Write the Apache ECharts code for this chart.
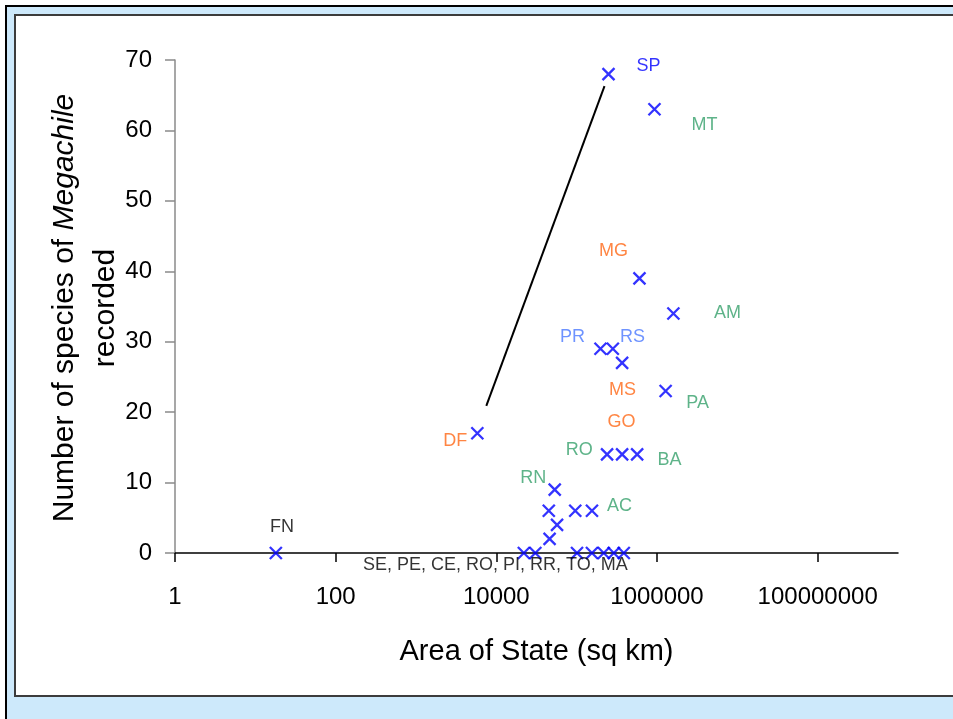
<!DOCTYPE html>
<html>
<head>
<meta charset="utf-8">
<script src="https://cdn.jsdelivr.net/npm/echarts@6/dist/echarts.min.js"></script>
<style>
  html, body { margin: 0; padding: 0; background: #ffffff; width: 953px; height: 719px; overflow: hidden; }
  #outer { position: absolute; left: 5px; top: 5px; width: 980px; height: 740px; background: #cde9fb;
           border-top: 2px solid #000; border-left: 2px solid #000; box-sizing: border-box; }
  #panel { position: absolute; left: 14px; top: 14px; width: 980px; height: 683px; background: #ffffff;
           border-top: 2px solid #3c3c3c; border-left: 2px solid #3c3c3c; border-bottom: 2px solid #3c3c3c; box-sizing: border-box; }
  #chart { position: absolute; left: 0; top: 0; width: 953px; height: 719px; }
</style>
</head>
<body>
<div id="outer"></div>
<div id="panel"></div>
<div id="chart"></div>
<script>
// ---- data (area of state in sq km, number of Megachile species) ----
var pointArea = [18, 5800, 249000, 930000, 605000, 1600000, 198000, 282000, 368000, 1280000,
                 239000, 368000, 566000, 53300, 45000, 96000, 155000, 57000, 46000,
                 22000, 30600, 101000, 155000, 217000, 290000, 386000];
var pointSpecies = [0, 17, 68, 63, 39, 34, 29, 29, 27, 23,
                    14, 14, 14, 9, 6, 6, 6, 4, 2,
                    0, 0, 0, 0, 0, 0, 0];

// state labels (text, anchor area, anchor species, colour group)
var labelText = ['SP', 'MT', 'MG', 'AM', 'PR', 'RS', 'MS', 'PA', 'GO', 'DF', 'RO', 'BA', 'RN', 'AC', 'FN',
                 'SE, PE, CE, RO, PI, RR, TO, MA'];
var labelArea = [783000, 3900000, 287000, 7560000, 88500, 495000, 372000, 3200000, 361000, 3080, 108000,
                 1430000, 28900, 341000, 21.5, 9720];
var labelSpecies = [69.1, 60.8, 42.9, 34.1, 30.7, 30.7, 23.1, 21.3, 18.6, 15.9, 14.6, 13.2, 10.6, 6.7, 3.7, -1.7];
var labelGroup = ['blue', 'green', 'orange', 'green', 'lightblue', 'lightblue', 'orange', 'green', 'orange',
                  'orange', 'green', 'green', 'green', 'green', 'black', 'black'];

// annotation line from DF towards SP
var lineArea = [7500, 222000];
var lineSpecies = [20.9, 66.3];

var xTickValues = [1, 100, 10000, 1000000, 100000000];
var xMin = 1, xMax = 1000000000;
var yMin = 0, yMax = 70, yStep = 10;

var xTitle = 'Area of State (sq km)';
var yTitleLine1 = 'Number of species of ';
var yTitleItalic = 'Megachile';
var yTitleLine2 = 'recorded';

var groupColor = { blue: '#0000ff', green: '#36a06c', orange: '#ff6614', lightblue: '#4a78ff', black: '#000000' };

var regular = "'Liberation Sans', Arial, sans-serif";

var points = pointArea.map(function (a, i) { return [a, pointSpecies[i]]; });
var labels = labelText.map(function (t, i) {
  return { name: t, value: [labelArea[i], labelSpecies[i]], label: { color: groupColor[labelGroup[i]] } };
});
var linePts = lineArea.map(function (a, i) { return [a, lineSpecies[i]]; });

var chart = echarts.init(document.getElementById('chart'), null, { renderer: 'canvas' });
chart.setOption({
  backgroundColor: 'transparent',
  animation: false,
  grid: { left: 175, right: 55, top: 60, bottom: 166, containLabel: false },
  graphic: [{
    type: 'text', x: 85, y: 308, rotation: Math.PI / 2, silent: true,
    style: {
      text: '{n|' + yTitleLine1 + '}{i|' + yTitleItalic + '}\n{n|' + yTitleLine2 + '}',
      align: 'center', verticalAlign: 'middle', fill: '#000',
      fontFamily: regular, fontSize: 30, lineHeight: 41,
      rich: {
        n: { fontFamily: regular, fontSize: 30, fill: '#000', color: '#000', lineHeight: 41 },
        i: { fontFamily: regular, fontSize: 30, fontStyle: 'italic', fill: '#000', color: '#000', lineHeight: 41 }
      }
    }
  }],
  xAxis: {
    type: 'log', logBase: 10, min: xMin, max: xMax,
    name: xTitle, nameLocation: 'middle', nameGap: 84,
    nameTextStyle: { fontFamily: regular, fontSize: 29, color: '#000' },
    axisLine: { show: true, lineStyle: { color: '#000', width: 1.5 } },
    axisTick: { show: true, inside: false, length: 9, lineStyle: { color: '#000', width: 1.5 }, customValues: xTickValues },
    axisLabel: { fontFamily: regular, fontSize: 24, color: '#000', margin: 32, customValues: xTickValues,
                 formatter: function (v) { return String(Math.round(v)); } },
    splitLine: { show: false }, minorTick: { show: false }
  },
  yAxis: {
    type: 'value', min: yMin, max: yMax, interval: yStep,
    axisLine: { show: true, lineStyle: { color: '#8a8a8a', width: 1.5 } },
    axisTick: { show: true, inside: false, length: 10, lineStyle: { color: '#8a8a8a', width: 1.5 } },
    axisLabel: { fontFamily: regular, fontSize: 24, color: '#000', margin: 23 },
    splitLine: { show: false }
  },
  series: [
    {
      type: 'line', data: linePts, showSymbol: false, symbol: 'none', silent: true, z: 2,
      lineStyle: { color: '#000', width: 2 }
    },
    {
      type: 'scatter', data: points, symbol: 'path://M0,0L10,10M0,10L10,0', symbolSize: 12, clip: false, z: 3,
      itemStyle: { color: 'none', borderColor: '#0000ff', borderWidth: 2.3 }
    },
    {
      type: 'scatter', data: labels, symbol: 'circle', symbolSize: 1, clip: false, silent: true, z: 4,
      itemStyle: { color: 'rgba(0,0,0,0)' },
      label: { show: true, position: 'inside', fontFamily: regular, fontSize: 18,
               formatter: function (p) { return p.name; } }
    }
  ]
});
</script>
</body>
</html>
